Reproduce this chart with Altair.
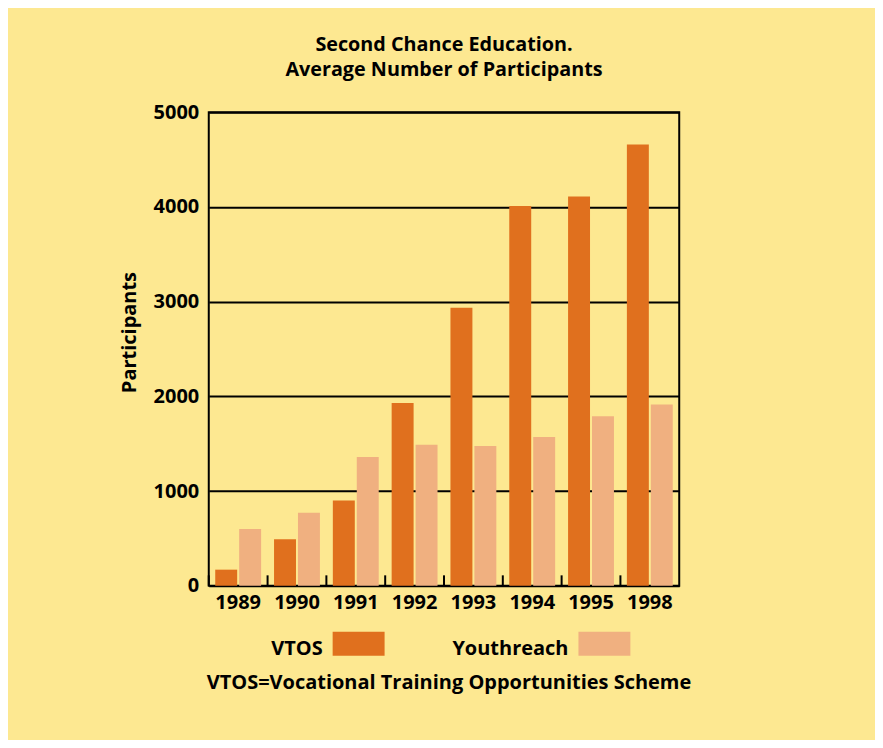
import altair as alt
import pandas as pd

years = ["1989", "1990", "1991", "1992", "1993", "1994", "1995", "1998"]
vtos = [170, 490, 900, 1930, 2935, 4010, 4110, 4660]
youthreach = [600, 770, 1360, 1490, 1475, 1570, 1790, 1915]
series = ["VTOS", "Youthreach"]
colors = ["#E0701E", "#F0B080"]
y_ticks = [0, 1000, 2000, 3000, 4000, 5000]
title_lines = ["Second Chance Education.", "Average Number of Participants"]
footnote = "VTOS=Vocational Training Opportunities Scheme"

rows = []
for i, yr in enumerate(years):
    rows.append({"year": yr, "series": "VTOS", "value": vtos[i]})
    rows.append({"year": yr, "series": "Youthreach", "value": youthreach[i]})
df = pd.DataFrame(rows)

BG = "#FDE891"
FONT = "Open Sans"

color_enc = alt.Color("series:N", scale=alt.Scale(domain=series, range=colors), legend=None)

x_enc = alt.X(
    "year:N", sort=years,
    scale=alt.Scale(paddingInner=0, paddingOuter=0),
    axis=alt.Axis(title=None, labelAngle=0, labelFontSize=20, labelFontWeight="bold",
                  labelColor="black", labelPadding=7, ticks=False, tickSize=0,
                  domain=False, grid=False),
)

bars = alt.Chart(df).mark_bar().encode(
    x=x_enc,
    xOffset=alt.XOffset("series:N", sort=series,
                        scale=alt.Scale(paddingInner=0.083, paddingOuter=0.27)),
    y=alt.Y("value:Q", scale=alt.Scale(domain=[0, 5000], nice=False),
            axis=alt.Axis(title="Participants", values=y_ticks, format="d", grid=True,
                          gridColor="black", gridWidth=2, domain=False, ticks=False,
                          tickSize=0, labelPadding=10, labelFontSize=20,
                          labelFontWeight="bold", labelColor="black",
                          titleFontSize=20, titleFontWeight="bold", titleColor="black",
                          titleX=-73, titleY=220, titleBaseline="alphabetic",
                          titleAngle=270)),
    color=color_enc,
)

tick_rules = alt.Chart(df).transform_filter(alt.datum.series == "VTOS").mark_rule(
    color="black", strokeWidth=2
).encode(
    x=alt.X("year:N", sort=years, bandPosition=0),
    y=alt.datum(0),
    y2=alt.datum(110),
)

main = alt.layer(bars, tick_rules).properties(
    width=471, height=474,
    title=alt.TitleParams(title_lines, fontSize=19.8, fontWeight="bold", lineHeight=25,
                          frame="group", anchor="middle", offset=23, color="black"),
    view=alt.ViewBackground(stroke="black", strokeWidth=2),
)

leg_df = pd.DataFrame({"series": series})
xl = alt.X("series:N", sort=series,
           scale=alt.Scale(type="point", padding=0.457, align=0.667), axis=None)
swatches = alt.Chart(leg_df).mark_point(
    shape="M-1,-0.46H1V0.46H-1Z", filled=True, size=2704, opacity=1
).encode(x=xl, color=color_enc)
labels = alt.Chart(leg_df).mark_text(
    align="right", baseline="alphabetic", dx=-36, dy=11, fontSize=20,
    fontWeight="bold", color="black"
).encode(x=xl, text="series:N")

legend = alt.layer(swatches, labels).properties(
    width=471, height=30,
    title=alt.TitleParams(footnote, orient="bottom", fontSize=20, fontWeight="bold",
                          frame="group", anchor="middle", baseline="alphabetic",
                          offset=30, dx=5, color="black"),
    view=alt.ViewBackground(strokeOpacity=0),
)

chart = alt.vconcat(main, legend, spacing=15).properties(
    background=BG,
    padding={"left": 111, "right": 183, "top": 25, "bottom": 47},
).configure(font=FONT)

chart.save("out.html", embed_options={"renderer": "svg", "actions": False})
